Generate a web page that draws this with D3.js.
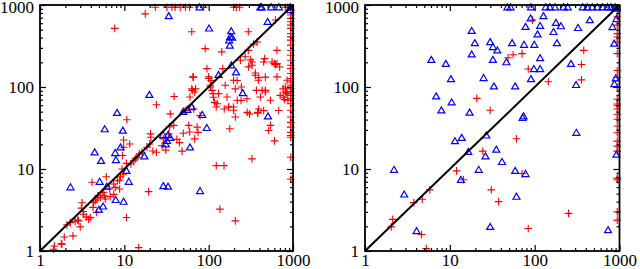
<!DOCTYPE html>
<html>
<meta charset="utf-8">
<head>
<script src="https://d3js.org/d3.v7.min.js"></script>
<style>
    body { margin: 0; background: #fff; }
    .tick text { font-family: "Liberation Serif", "DejaVu Serif", serif; font-size: 17px; fill: #000; }
    .tick line { stroke: #000; stroke-width: 1.2px; }
</style>
</head>
<body>
<script>
// tick values shared by both panels
var majorTicks = [1, 10, 100, 1000];
var minorTicks = [2,3,4,5,6,7,8,9, 20,30,40,50,60,70,80,90, 200,300,400,500,600,700,800,900];

// left panel: blue triangles [x, y]
var leftTriangles = [
    [2.3,6],[5.1,7],[4.45,16],[5.3,12.6],[5.85,30.6],[6.2,6.1],[8.2,48.5],[7.8,15.7],[7.95,12.9],
    [9,18.4],[9.6,29.5],[10.6,9.5],[11.3,7],[7.9,4.2],[9.8,4],[5,3.2],[5.6,3.5],[19.8,80.5],[17.3,14.3],
    [28.7,26],[32,22],[33,26],[35,24],[31,20],[29,6.2],[33,6.1],[33.6,733],[78,940],[101,518],[60,18.4],
    [56,52.7],[50,50],[63,57],[84,45.7],[95,31.7],[79,5.4],[131,141],[185,480],[180,410],[175,370],
    [190,400],[178,320],[186,184],[211,151],[253,84.5],[410,940],[425,940],[550,940],[680,940],
    [500,625],[505,44],[930,940],[930,870]
];

// left panel: red crosses [x, y]
var leftCrosses = [
    [1.45,1.05],[1.48,1.15],[1.79,1.23],[1.94,1.48],[2.46,1.53],[2.09,2.08],[2.62,2.29],[3.0,1.97],
    [2.8,2.38],[3.24,3.03],[3.15,3.87],[3.54,2.61],[3.95,2.55],[4.25,3.4],[4.53,4.1],[4.7,2.95],
    [4.14,6.9],[4.85,4.7],[5.2,4.5],[5.7,5.2],[6.1,8.05],[6.8,4.6],[7.5,4.9],[7.8,5.97],[8.3,7.2],
    [9.0,8.05],[9.4,10],[9.5,14.6],[9.8,18.4],[9.8,22.6],[10.7,39.8],[10.6,2.56],[11.6,20.2],[12,11.5],
    [12.9,12.6],[13.5,13.3],[14.1,13.9],[14.8,1.1],[15.1,15.3],[16.2,16],[18.6,18.4],[20,20.2],[19.4,5.3],
    [20.4,26.8],[20.6,24.4],[21.8,16.6],[24,16],[24,60.8],[28,19.3],[29,23.3],[31,17],[33.5,26.8],
    [34.4,32.8],[35,47],[38.5,34],[39,76.5],[42,23],[45,21],[48.3,16.5],[50,27.3],[52.5,51.5],[58,34],
    [59.5,28.3],[63,95.3],[63,471],[65,133],[60,75.5],[66.5,54],[68.3,23.3],[72.8,32.4],[74.8,28],
    [79,44.8],[91,294],[95.5,167.5],[100,133],[104.5,105],[109.5,91],[114,75],[123,57],[118,65],
    [123,11],[152,11],[136,3.24],[143,268],[147,167.5],[157,105],[165,75.5],[172,57],[197,121],[197,57],
    [207,2.33],[207,43],[218,69],[238,212],[271,234],[284,72],[295,471],[295,280],[298,176],[326,13.3],
    [340,333],[326,202],[357,139],[368,91],[381,48],[389,121],[410,75.5],[449,51.5],[449,202],[470,91],
    [515,29.5],[540,69],[565,202],[605,22],[620,655],[620,189],[645,280],[645,133],[705,79],[17.7,780],
    [7.7,518],[1.82,1.21],[2.29,2.22],[2.87,2.33],[3.29,2.81],[3.09,3.33],[3.77,2.44],[4.32,3.9],
    [4.75,4.3],[5.44,5.17],[5.8,4.7],[5.95,4.3],[6.7,5.7],[7.47,6.55],[8.8,7.3],[8.8,5.7],[9.66,8.5],
    [10.6,11.7],[375,355],[461,222],[600,193],[646,193],[312,214],[327,184],[358,148],[392,130],[470,132],
    [695,175],[470,87],[430,91],[763,95],[813,87],[850,83],[795,70.5],[677,51.7],[392,54],[306,47],
    [540,34],[217,120],[244,100],[207,95],[242,68.5],[173,57],[198,52],[153,54],[126,62.5],[113,83],
    [131,83],[105,100],[100,127],[107,120],[66,132],[64,91],[70,95],[68,87],[286,49],[382,49],[178,31],
    [23.3,940],[32,940],[36.7,940],[40,940],[46,940],[53,940],[59.5,940],[87,940],[198,940],[213,940],
    [233,940],[811,940],[865,940],
    [940,868],[940,755],[940,687],[940,625],[940,569],[940,518],[940,450],[940,409],[940,373],[940,324],
    [940,281],[940,244],[940,212],[940,184],[940,168],[940,146],[940,127],[940,115],[940,105],[940,95],
    [940,87],[940,79],[940,72],[940,62.5],[940,52],[940,43],[940,37],[940,32.4],[940,28],[940,25.6],
    [940,24.4],[940,13.9],[940,7.5],[810,100],[840,87],[768,75],[850,121],[870,69]
];

// right panel: blue triangles [x, y]
var rightTriangles = [
    [2.2,9.8],[2.9,4.9],[4.05,1.75],[6.05,215],[6.9,77],[7.95,52],[8.97,192],[10.3,125],[10.5,65],
    [11.5,21.9],[13.8,24],[13.5,7.4],[16.5,16.2],[17.1,48.8],[18.1,484],[18.1,250],[19.7,344],[21.9,9.8],
    [25,129],[26.3,14.3],[26.9,25.7],[29.9,354],[29.9,1.97],[32.2,308],[32.2,215],[33.1,102],[36.3,280],
    [35.3,17.3],[41.2,12.2],[46.4,201],[47.7,940],[52,940],[54.2,344],[58.9,102],[58.9,9.5],[61,4.6],
    [72,42],[74,44],[75,328],[78,542],[89.6,686],[90.5,940],[78,8.7],[90.4,125],[98,166],[116,166],
    [99,328],[108,440],[116,225],[116,557],[127,733],[135,940],[151,940],[174,940],[167,470],[178,607],
    [183,344],[204,552],[219,940],[245,940],[268,192],[308,106],[310,27.7],[325,526],[369,940],[417,940],
    [478,940],[547,940],[630,940],[720,940],[794,940],[890,940],[447,654],[733,1.8],[826,540],[865,339],
    [904,128],[870,109],[920,676],[920,15],[912,912]
];

// right panel: red crosses [x, y]
var rightCrosses = [
    [2.04,1.97],[2.12,2.43],[3.76,3.89],[4.73,4.28],[4.64,1.59],[5.27,1.07],[5.8,5.57],[12,9.5],
    [14.5,7.4],[20.8,72.6],[24.5,16.5],[29.9,52],[30.8,5.57],[37.6,4.0],[48.5,227],[55.7,247],[61,23.4],
    [71,255],[71,8.8],[84,166],[84,1.88],[94,654],[145,116],[251,2.88],[356,122],[356,188],[379,280],
    [940,844],[940,719],[940,568],[940,448],[940,408],[940,354],[940,255],[940,159],[940,131],[940,99],
    [940,71],[940,62],[940,59],[940,54],[940,46.5],[940,40.4],[940,33.5],[940,27.7],[940,21.9],[940,19],
    [940,16.5],[940,7.75],[940,7.4],[940,3.0],[940,2.38]
];

var svg = d3.select("body").append("svg")
    .attr("width", 640)
    .attr("height", 269);

function drawPanel(left, right, tris, crosses) {
    var top = 5, bottom = 251;
    var x = d3.scaleLog().domain([1, 1000]).range([left, right]);
    var y = d3.scaleLog().domain([1, 1000]).range([bottom, top]);
    var g = svg.append("g");

    // red crosses
    g.selectAll("path.cross")
        .data(crosses)
        .enter().append("path")
        .attr("class", "cross")
        .attr("transform", function(d) { return "translate(" + x(d[0]) + "," + y(d[1]) + ")"; })
        .attr("d", "M-3.8,0H3.8M0,-3.8V3.8")
        .attr("stroke", "#ff0000")
        .attr("stroke-width", 1.1)
        .attr("fill", "none");

    // blue triangles
    g.selectAll("path.tri")
        .data(tris)
        .enter().append("path")
        .attr("class", "tri")
        .attr("transform", function(d) { return "translate(" + x(d[0]) + "," + y(d[1]) + ")"; })
        .attr("d", "M0,-3.4L3.5,2.6L-3.5,2.6Z")
        .attr("stroke", "#0000ff")
        .attr("stroke-width", 1.2)
        .attr("fill", "none");

    // diagonal y = x
    g.append("line")
        .attr("x1", x(1)).attr("y1", y(1))
        .attr("x2", x(1000)).attr("y2", y(1000))
        .attr("stroke", "#000")
        .attr("stroke-width", 2);

    var fmt = function(d) { return d3.format("d")(d); };

    // bottom axis with labels
    g.append("g").attr("transform", "translate(0," + bottom + ")")
        .call(d3.axisBottom(x).tickValues(majorTicks).tickSize(-6).tickPadding(3).tickFormat(fmt));
    g.append("g").attr("transform", "translate(0," + bottom + ")")
        .call(d3.axisBottom(x).tickValues(minorTicks).tickSize(-3).tickFormat(""));
    // top axis, mirrored
    g.append("g").attr("transform", "translate(0," + top + ")")
        .call(d3.axisTop(x).tickValues(majorTicks).tickSize(-6).tickFormat(""));
    g.append("g").attr("transform", "translate(0," + top + ")")
        .call(d3.axisTop(x).tickValues(minorTicks).tickSize(-3).tickFormat(""));
    // left axis with labels
    var yAxis = g.append("g").attr("transform", "translate(" + left + ",0)")
        .call(d3.axisLeft(y).tickValues(majorTicks).tickSize(-6).tickPadding(6).tickFormat(fmt));
    // keep the top label inside the picture
    yAxis.selectAll(".tick text").filter(function(d) { return d === 1000; }).attr("dy", "0.42em");
    g.append("g").attr("transform", "translate(" + left + ",0)")
        .call(d3.axisLeft(y).tickValues(minorTicks).tickSize(-3).tickFormat(""));
    // right axis, mirrored
    g.append("g").attr("transform", "translate(" + right + ",0)")
        .call(d3.axisRight(y).tickValues(majorTicks).tickSize(-6).tickFormat(""));
    g.append("g").attr("transform", "translate(" + right + ",0)")
        .call(d3.axisRight(y).tickValues(minorTicks).tickSize(-3).tickFormat(""));

    g.selectAll(".domain").remove();

    // frame
    g.append("rect")
        .attr("x", left).attr("y", top)
        .attr("width", right - left).attr("height", bottom - top)
        .attr("fill", "none")
        .attr("stroke", "#000")
        .attr("stroke-width", 1.8);
}

drawPanel(40, 293, leftTriangles, leftCrosses);
drawPanel(365, 619.5, rightTriangles, rightCrosses);
</script>
</body>
</html>
